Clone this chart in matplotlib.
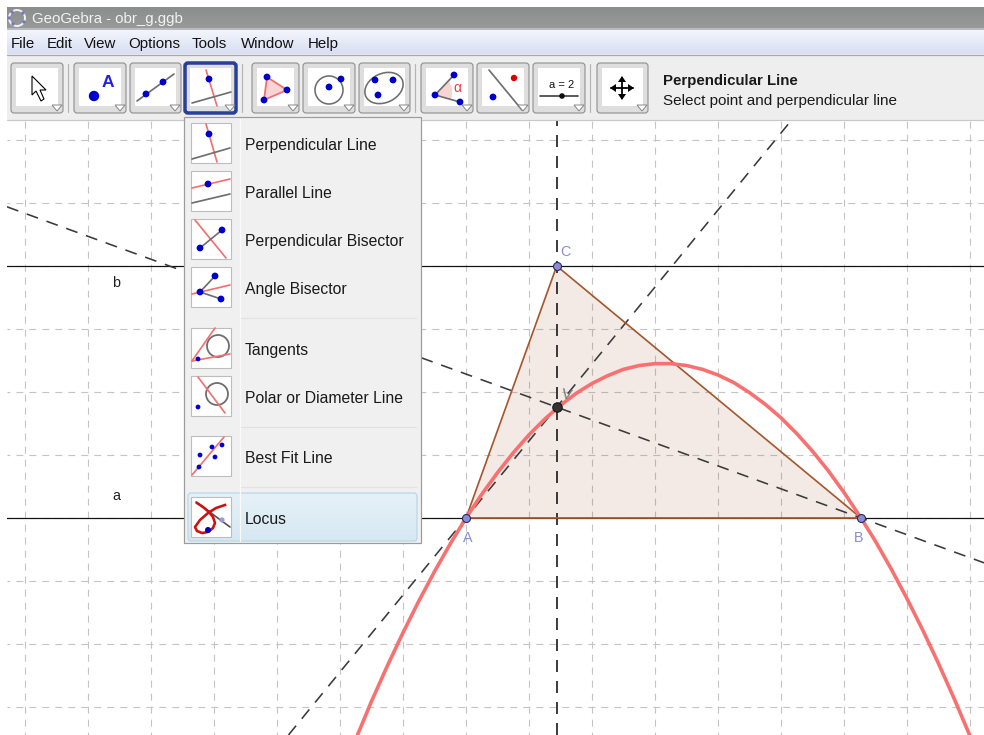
import numpy as np
import matplotlib
matplotlib.use("Agg")
import matplotlib.pyplot as plt
from matplotlib.patches import Circle, Ellipse, FancyBboxPatch, Polygon, Rectangle

plt.rcParams['font.family'] = ['Liberation Sans', 'DejaVu Sans']
plt.rcParams['lines.scale_dashes'] = False

# ---------- data (geometry in grid units, A is the origin) ----------
PX_PER_UNIT = 63
ORIGIN_PX = (466, 518)
grid_x = [-7, -6, -5, -4, -3, -2, -1, 0, 1, 2, 3, 4, 5, 6, 7, 8]
grid_y = [-3, -2, -1, 0, 1, 2, 3, 4, 5, 6]
A = (0.0, 0.0)
B = (6.27, 0.0)
C = (1.44, 4.0)
H = (1.44, 1.76)
locus_x = [-1.75, -1.5, -1.25, -1, -.75, -.5, -.25, 0, .25, .5, .75, 1, 1.25, 1.5, 1.75, 2, 2.25, 2.5,
           2.75, 3, 3.25, 3.5, 3.75, 4, 4.25, 4.5, 4.75, 5, 5.25, 5.5, 5.75, 6, 6.27, 6.5, 6.75, 7,
           7.25, 7.5, 7.75, 8, 8.25]
locus_y = [-3.51, -2.91, -2.35, -1.82, -1.32, -.85, -.41, 0, .376, .72, 1.035, 1.32, 1.57, 1.79, 1.98,
           2.135, 2.26, 2.36, 2.42, 2.45, 2.45, 2.42, 2.36, 2.27, 2.15, 1.99, 1.805, 1.59, 1.34, 1.06,
           .75, .405, 0, -.37, -.81, -1.28, -1.78, -2.31, -2.87, -3.46, -4.08]
menubar_labels = ["File", "Edit", "View", "Options", "Tools", "Window", "Help"]
menubar_x = [11, 47, 84, 128, 192, 241, 308]
menu_labels = ["Perpendicular Line", "Parallel Line", "Perpendicular Bisector", "Angle Bisector",
               "Tangents", "Polar or Diameter Line", "Best Fit Line", "Locus"]
menu_tops = [123, 171, 219, 267, 328, 376, 436, 497]
button_lefts = [11, 74, 130, 185, 252, 303, 359, 421, 477, 533, 597]
button_widths = [52, 52, 51, 51, 47, 52, 51, 52, 52, 52, 51]

BLUE = "#0000cc"
RED = "#f27070"
GRAY = "#6e6e6e"

fig = plt.figure(figsize=(9.84, 7.35), dpi=100, facecolor="white")

# ---------- drawing pad ----------
left_px, right_px, top_px, bottom_px = 7, 984, 120, 735
ax = fig.add_axes([left_px / 984, (735 - bottom_px) / 735, (right_px - left_px) / 984,
                   (bottom_px - top_px) / 735])
ax.set_xlim((left_px - ORIGIN_PX[0]) / PX_PER_UNIT, (right_px - ORIGIN_PX[0]) / PX_PER_UNIT)
ax.set_ylim((ORIGIN_PX[1] - bottom_px) / PX_PER_UNIT, (ORIGIN_PX[1] - top_px) / PX_PER_UNIT)
ax.axis("off")

px = 72 / 100
for gx in grid_x:
    ax.axvline(gx, color="#c4c4c4", lw=1.1 * px, ls=(3, (7 * px, 6 * px)), zorder=1)
for gy in grid_y:
    ax.axhline(gy, color="#c4c4c4", lw=1.1 * px, ls=(3, (7 * px, 6 * px)), zorder=1)

ax.add_patch(Polygon([A, B, C], closed=True, facecolor="#a5552a", alpha=0.12, edgecolor="none", zorder=2))
ax.axhline(A[1], color="#111111", lw=1.2 * px, zorder=3)
ax.axhline(C[1], color="#111111", lw=1.2 * px, zorder=3)

dash = (0, (12 * px, 9 * px))
ax.axvline(C[0], color="#111111", lw=1.6 * px, ls=dash, zorder=3)
ax.axline(A, H, color="#3a3a3a", lw=1.6 * px, ls=dash, zorder=3)
ax.axline(B, H, color="#3a3a3a", lw=1.6 * px, ls=dash, zorder=3)

ax.plot([A[0], B[0], C[0], A[0]], [A[1], B[1], C[1], A[1]], color="#a5582f", lw=1.7 * px, zorder=4)
ax.plot(locus_x, locus_y, color="#f87070", lw=3.6 * px, solid_joinstyle="round", zorder=5)

for p in (A, B, C):
    ax.plot(*p, "o", ms=8 * px, mfc="#8a8ad8", mec="#2b2b55", mew=1.1 * px, zorder=6)
ax.plot(*H, "o", ms=9.5 * px, mfc="#333333", mec="#111111", mew=1 * px, zorder=6)

for pos, s in (((1.44 + .14, 4.22), "C"), ((.03, -.32), "A"), ((6.23, -.32), "B")):
    ax.text(*pos, s, color="#8a8ad8", fontsize=10.3, ha="center", va="center", zorder=7)
ax.text(-5.55, .35, "a", color="#222222", fontsize=10.3, ha="center", va="center", zorder=7)
ax.text(-5.55, 3.73, "b", color="#222222", fontsize=10.3, ha="center", va="center", zorder=7)
ax.text(1.6, 1.96, "V", color="#777777", fontsize=11, rotation=-10, ha="center", va="center", zorder=7)

# ---------- user interface overlay, in screenshot pixels ----------
ui = fig.add_axes([0, 0, 1, 1], facecolor="none")
ui.set_xlim(0, 984)
ui.set_ylim(735, 0)
ui.axis("off")


def gradient(x0, y0, x1, y1, c0, c1, z=1):
    a = np.array(matplotlib.colors.to_rgb(c0))
    b = np.array(matplotlib.colors.to_rgb(c1))
    t = np.linspace(0, 1, 32)[:, None, None]
    ui.imshow(a + (b - a) * t, extent=(x0, x1, y1, y0), aspect="auto", zorder=z, interpolation="bilinear")


def seg(x0, y0, x1, y1, c=GRAY, w=1.7, z=12):
    ui.plot([x0, x1], [y0, y1], color=c, lw=w * px, solid_capstyle="round", zorder=z)


def dots(pts, r=3.4, c=BLUE, z=13):
    for x, y in pts:
        ui.add_patch(Circle((x, y), r, facecolor=c, edgecolor="none", zorder=z))


gradient(7, 7, 984, 28, "#8b8e8c", "#979a98")
ui.add_patch(Rectangle((7, 28), 977, 3, facecolor="#b8bbc0", edgecolor="none", zorder=1))
gradient(7, 30, 984, 54, "#f3f5fc", "#d8dff2")
ui.add_patch(Rectangle((7, 54), 977, 66, facecolor="#eeeeee", edgecolor="none", zorder=1))
seg(7, 55, 984, 55, "#a8a8a8", 1.2, 2)
seg(7, 120, 984, 120, "#c8c8c8", 1.2, 2)

ui.add_patch(Circle((17, 18), 8, facecolor="none", edgecolor="#eef0f8", lw=2 * px, zorder=3))
dots([(12, 12), (23, 13), (24, 22), (13, 24), (9, 18)], 1.7, "#7777bb", 4)
ui.text(32, 19, "GeoGebra - obr_g.ggb", color="#f2f2f2", fontsize=10.8, va="center", zorder=4)

for x, s in zip(menubar_x, menubar_labels):
    ui.text(x, 44, s, color="#111111", fontsize=10.8, va="center", zorder=4)

for i, (x, w) in enumerate(zip(button_lefts, button_widths)):
    selected = i == 3
    ui.add_patch(FancyBboxPatch((x, 63), w, 50, boxstyle="round,pad=0,rounding_size=3",
                                facecolor="#dedede", edgecolor="#2a3f9a" if selected else "#8e8e8e",
                                lw=(3.5 if selected else 1.1) * px, zorder=5))
    ui.add_patch(Rectangle((x + 5, 68), w - 10, 38, facecolor="white", edgecolor="none", zorder=6))
    ui.add_patch(Polygon([(x + w - 11, 105), (x + w - 1, 105), (x + w - 6, 111)], closed=True,
                         facecolor="white", edgecolor="#808080", lw=0.9 * px, zorder=14))
for x in (68, 242, 415, 590):
    seg(x, 64, x, 112, "#b4b4b4", 1.2, 3)

# toolbar icons
ui.add_patch(Polygon([(32, 76), (32, 95), (36, 91), (41, 101), (44, 99), (40, 90), (46, 90)], closed=True,
                     facecolor="white", edgecolor="black", lw=1.1 * px, zorder=12))
dots([(94, 96)], 5.2)
ui.text(108, 82, "A", color="#2222dd", fontsize=12.5, fontweight="bold", ha="center", va="center", zorder=12)
seg(137, 101, 174, 74)
dots([(146, 94), (163, 82)])
seg(206, 70, 217, 106, RED)
seg(192, 103, 231, 92)
dots([(209, 79)])
ui.add_patch(Polygon([(267, 77), (287, 90), (264, 100)], closed=True, facecolor="#f8d4d4",
                     edgecolor=RED, lw=1.8 * px, zorder=11))
dots([(267, 77), (287, 90), (264, 100)])
ui.add_patch(Circle((329, 90), 14, facecolor="none", edgecolor=GRAY, lw=1.6 * px, zorder=11))
dots([(329, 87), (341, 79)])
ui.add_patch(Ellipse((384, 88), 40, 29, angle=-25, facecolor="none", edgecolor=GRAY, lw=1.6 * px, zorder=11))
dots([(375, 80), (393, 80), (378, 95)])
ui.add_patch(Polygon([(435, 95), (449, 81), (452, 88), (452, 97), (450, 99)], closed=True,
                     facecolor="#f8d4d4", edgecolor="none", zorder=10))
seg(435, 95, 454, 75)
seg(435, 95, 460, 102)
dots([(435, 95), (454, 75), (460, 102)])
ui.text(457, 88, "α", color="#e04040", fontsize=10, ha="center", va="center", zorder=12)
seg(489, 70, 522, 110)
dots([(493, 97)])
dots([(514, 78)], 3.2, "#dd0000")
ui.text(562, 85, "a = 2", color="#111111", fontsize=8, ha="center", va="center", zorder=12)
seg(540, 96, 578, 96, "#444444")
dots([(562, 96)], 2.8, "#111111")
seg(622, 78, 622, 98, "black", 1.8)
seg(611, 88, 633, 88, "black", 1.8)
for pts in ([(622, 76), (618, 82), (626, 82)], [(622, 100), (618, 94), (626, 94)],
            [(610, 88), (616, 84), (616, 92)], [(634, 88), (628, 84), (628, 92)]):
    ui.add_patch(Polygon(pts, closed=True, facecolor="black", edgecolor="none", zorder=13))

ui.text(663, 81, "Perpendicular Line", color="#1a1a1a", fontsize=10.8, fontweight="bold",
        va="center", zorder=12)
ui.text(663, 101, "Select point and perpendicular line", color="#1a1a1a", fontsize=11.0,
        va="center", zorder=12)

# drop-down menu
ui.add_patch(Rectangle((184, 117), 237, 426, facecolor="#f0f0f0", edgecolor="#9c9c9c", lw=1.2 * px, zorder=8))
gradient(188, 493, 417, 541, "#e6f1f7", "#d6e8f2", 9)
ui.add_patch(FancyBboxPatch((188, 493), 229, 48, boxstyle="round,pad=0,rounding_size=3", facecolor="none",
                            edgecolor="#b2d5e8", lw=1.1 * px, zorder=9))
seg(240, 119, 240, 541, "#fafafa", 1.2, 9)
for y in (318, 427, 487):
    seg(241, y, 416, y, "#e2e2e2", 1.2, 9)
for y0, s in zip(menu_tops, menu_labels):
    ui.add_patch(Rectangle((191, y0), 40, 40, facecolor="white", edgecolor="#bdbdbd", lw=1.1 * px, zorder=10))
    ui.text(245, y0 + 22, s, color="#1a1a1a", fontsize=11.3, va="center", zorder=12)

seg(206, 124, 217, 162, RED); seg(192, 159, 230, 148); dots([(209, 134)])
seg(192, 188, 230, 179, RED); seg(192, 203, 230, 194); dots([(208, 184)])
seg(195, 220, 226, 258, RED); seg(200, 248, 222, 230); dots([(200, 248), (222, 230)])
seg(192, 294, 230, 285, RED); seg(200, 292, 215, 276); seg(200, 292, 221, 299)
dots([(200, 292), (215, 276), (221, 299)])
ui.add_patch(Circle((218, 346), 11, facecolor="none", edgecolor=GRAY, lw=1.8 * px, zorder=11))
seg(192, 361, 215, 328, RED); seg(192, 361, 230, 354, RED); dots([(198, 359)], 2.4)
ui.add_patch(Circle((217, 394), 11, facecolor="none", edgecolor=GRAY, lw=1.8 * px, zorder=11))
seg(198, 377, 225, 413, RED); dots([(198, 407)], 2.4)
seg(192, 475, 224, 437, RED)
dots([(199, 467), (200, 455), (212, 447), (215, 457), (222, 445)], 2.4)
seg(196, 502, 230, 527, "#555555")
loop_x = [225, 216, 208, 200, 195, 197, 202, 208, 213, 215, 213, 209, 203, 197]
loop_y = [505, 508, 513, 520, 527, 531, 533, 532, 528, 523, 517, 512, 507, 503]
ui.plot(loop_x, loop_y, color="#cc1111", lw=2.6 * px, solid_joinstyle="round", zorder=12)
dots([(208, 530)], 3)
dots([(222, 520)], 2.6, "#9a9ad8")

ui.set_xlim(0, 984)
ui.set_ylim(735, 0)
fig.savefig("out.png", dpi=100, facecolor="white")
